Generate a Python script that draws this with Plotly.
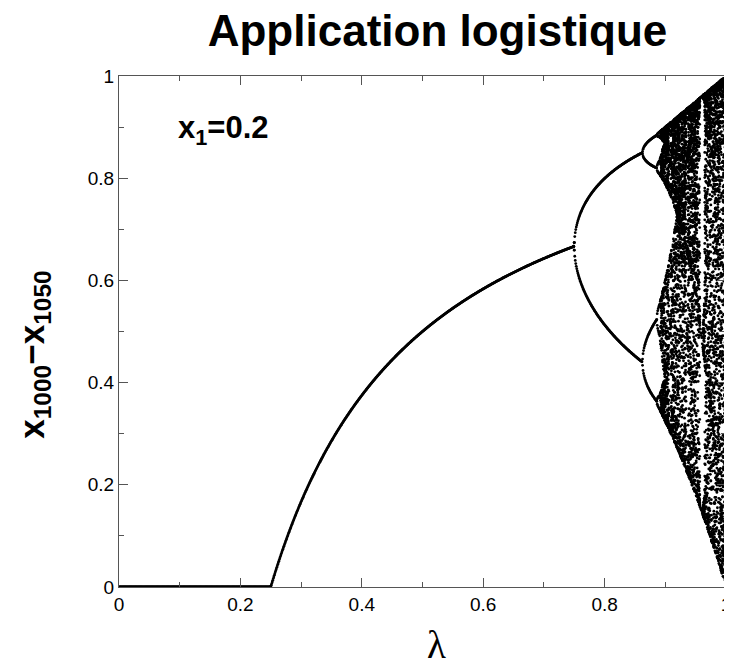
import numpy as np
import plotly.graph_objects as go

# Parameters of the logistic map shown: x_{n+1} = 4*lambda*x_n*(1-x_n)
LAMBDA_START = 0.0
LAMBDA_STOP = 1.0
LAMBDA_COUNT = 1201
X1 = 0.2
FIRST_ITER = 1000
LAST_ITER = 1050

x_ticks = [0, 0.2, 0.4, 0.6, 0.8, 1]
y_ticks = [0, 0.2, 0.4, 0.6, 0.8, 1]

lambdas = np.linspace(LAMBDA_START, LAMBDA_STOP, LAMBDA_COUNT)
x = np.full_like(lambdas, X1)
lam_pts, x_pts = [], []
for n in range(1, LAST_ITER):
    x = 4 * lambdas * x * (1 - x)
    if n + 1 >= FIRST_ITER:
        lam_pts.append(lambdas.copy())
        x_pts.append(x.copy())
lam_pts = np.concatenate(lam_pts)
x_pts = np.concatenate(x_pts)
# drop duplicated (converged) points
_, idx = np.unique(np.stack([np.round(lam_pts, 6), np.round(x_pts, 4)], axis=1),
                   axis=0, return_index=True)
lam_pts = lam_pts[idx]
x_pts = x_pts[idx]

fig = go.Figure()
fig.add_trace(go.Scatter(x=lam_pts, y=x_pts, mode="markers",
                         marker=dict(size=2.8, color="black", line=dict(width=0)),
                         hoverinfo="skip", showlegend=False, cliponaxis=True))

axis_common = dict(showgrid=False, zeroline=False, showline=True, linecolor="#555555",
                   linewidth=1, ticks="inside", ticklen=9, tickcolor="#555555",
                   mirror="ticks",
                   tickfont=dict(family="Liberation Sans, Arial", size=19, color="black"))

fig.update_xaxes(range=[0, 1], tickvals=x_ticks, ticktext=[("%g" % v) for v in x_ticks],
                 minor=dict(dtick=0.1, ticks="inside", ticklen=5, tickcolor="#555555"),
                 **axis_common)
fig.update_yaxes(range=[0, 1], tickvals=y_ticks, ticktext=[("%g" % v) for v in y_ticks],
                 minor=dict(dtick=0.1, ticks="inside", ticklen=5, tickcolor="#555555"),
                 **axis_common)

fig.update_layout(
    width=732, height=664,
    margin=dict(l=111, r=9, t=68, b=85),
    plot_bgcolor="white", paper_bgcolor="white",
    title=dict(text="<b>Application logistique</b>", x=429.5 / 732, xanchor="center",
               y=1 - 23 / 664, yanchor="middle", xref="container", yref="container",
               font=dict(family="Liberation Sans, Arial", size=44, color="black")),
    annotations=[
        dict(text="<b>x<sub>1</sub>=0.2</b>", xref="paper", yref="paper", x=0.172, y=0.895,
             xanchor="center", yanchor="middle", showarrow=False,
             font=dict(family="Liberation Sans, Arial", size=31, color="black")),
        dict(text="λ", xref="paper", yref="paper", x=0.523, y=-0.113,
             xanchor="center", yanchor="middle", showarrow=False,
             font=dict(family="Liberation Serif, Times New Roman", size=39, color="black")),
        dict(text="<b>x<sub>1000</sub>−x<sub>1050</sub></b>", xref="paper", yref="paper",
             x=-0.1405, y=0.454, xanchor="center", yanchor="middle", showarrow=False,
             textangle=-90,
             font=dict(family="Liberation Sans, Arial", size=35, color="black")),
    ],
)

fig.write_html("out.html")
